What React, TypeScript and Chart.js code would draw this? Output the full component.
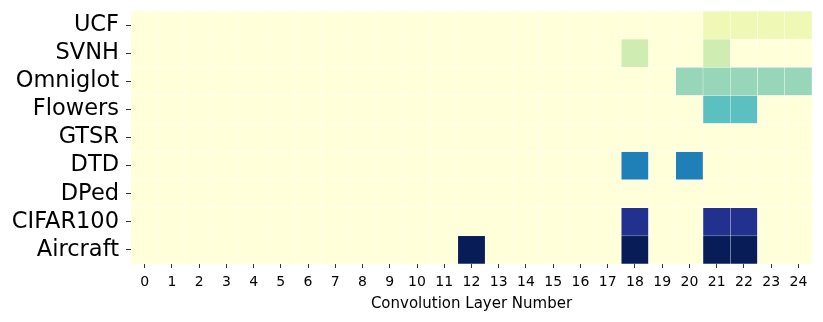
import React, { useEffect, useRef } from "react";
import { Chart, registerables } from "chart.js";

Chart.register(...registerables);

const layers = Array.from({ length: 25 }, (_, i) => String(i));
const rowNames = ["UCF", "SVNH", "Omniglot", "Flowers", "GTSR", "DTD", "DPed", "CIFAR100", "Aircraft"];

// values on a 0..9 scale, one per convolution layer 0..24
const ucf = [0,0,0,0,0,0,0,0,0,0,0,0,0,0,0,0,0,0,0,0,0,1,1,1,1];
const svnh = [0,0,0,0,0,0,0,0,0,0,0,0,0,0,0,0,0,0,2,0,0,2,0,0,0];
const omniglot = [0,0,0,0,0,0,0,0,0,0,0,0,0,0,0,0,0,0,0,0,3,3,3,3,3];
const flowers = [0,0,0,0,0,0,0,0,0,0,0,0,0,0,0,0,0,0,0,0,0,4,4,0,0];
const gtsr = [0,0,0,0,0,0,0,0,0,0,0,0,0,0,0,0,0,0,0,0,0,0,0,0,0];
const dtd = [0,0,0,0,0,0,0,0,0,0,0,0,0,0,0,0,0,0,6,0,6,0,0,0,0];
const dped = [0,0,0,0,0,0,0,0,0,0,0,0,0,0,0,0,0,0,0,0,0,0,0,0,0];
const cifar100 = [0,0,0,0,0,0,0,0,0,0,0,0,0,0,0,0,0,0,8,0,0,8,8,0,0];
const aircraft = [0,0,0,0,0,0,0,0,0,0,0,0,9,0,0,0,0,0,9,0,0,9,9,0,0];

const rows = [ucf, svnh, omniglot, flowers, gtsr, dtd, dped, cifar100, aircraft];
const vMax = 9;

const ylgnbu = [
  [255, 255, 217], [237, 248, 177], [199, 233, 180], [127, 205, 187], [65, 182, 196],
  [29, 145, 192], [34, 94, 168], [37, 52, 148], [8, 29, 88],
];

function cmap(v: number): string {
  const t = Math.max(0, Math.min(1, v / vMax)) * (ylgnbu.length - 1);
  const i = Math.min(ylgnbu.length - 2, Math.floor(t));
  const f = t - i;
  const a = ylgnbu[i], b = ylgnbu[i + 1];
  const c = a.map((x, k) => Math.round(x + (b[k] - x) * f));
  return `rgb(${c[0]},${c[1]},${c[2]})`;
}

export default function App() {
  const ref = useRef<HTMLCanvasElement | null>(null);
  useEffect(() => {
    if (!ref.current) return;
    Chart.defaults.font.family = "'DejaVu Sans'";
    const datasets = rows.map((vals, r) => ({
      label: rowNames[r],
      data: vals.map(() => [r - 0.5, r + 0.5]),
      backgroundColor: vals.map((v) => cmap(v)),
      borderColor: "rgba(255,255,255,0.45)",
      borderWidth: 0.5,
      borderSkipped: false,
      grouped: false,
      barPercentage: 1,
      categoryPercentage: 1,
    }));
    const chart = new Chart(ref.current, {
      type: "bar",
      data: { labels: layers, datasets: datasets as any },
      options: {
        animation: false,
        responsive: false,
        layout: { padding: { top: 11, right: 11, left: 0, bottom: 0 } },
        plugins: { legend: { display: false }, tooltip: { enabled: false } },
        scales: {
          x: {
            type: "category",
            offset: true,
            grid: { display: true, drawOnChartArea: false, drawTicks: true, tickLength: 4, offset: false, color: "#333", lineWidth: 1 },
            border: { display: false },
            ticks: { color: "#000", font: { size: 14 }, padding: 6, maxRotation: 0, autoSkip: false },
            title: { display: true, text: "Convolution Layer Number", color: "#000", font: { size: 15 }, padding: { top: 0, bottom: 9 } },
            afterFit: (s: any) => { s.height = 58; s.paddingLeft = 0; s.paddingRight = 0; },
          },
          y: {
            type: "linear",
            min: -0.5,
            max: 8.5,
            reverse: true,
            afterBuildTicks: (s: any) => { s.ticks = rowNames.map((_, i) => ({ value: i })); },
            grid: { display: true, drawOnChartArea: false, drawTicks: true, tickLength: 5, color: "#333", lineWidth: 1 },
            border: { display: false },
            ticks: { color: "#000", font: { size: 22.5 }, padding: 7, callback: (v: any) => rowNames[v as number] ?? "" },
            afterFit: (s: any) => { s.width = 131; s.paddingTop = 0; s.paddingBottom = 0; },
          },
        },
      },
    });
    return () => chart.destroy();
  }, []);
  return (
    <div style={{ position: "absolute", left: 0, top: 0, width: 823, height: 322, background: "#fff" }}>
      <canvas ref={ref} width={823} height={322} />
    </div>
  );
}
